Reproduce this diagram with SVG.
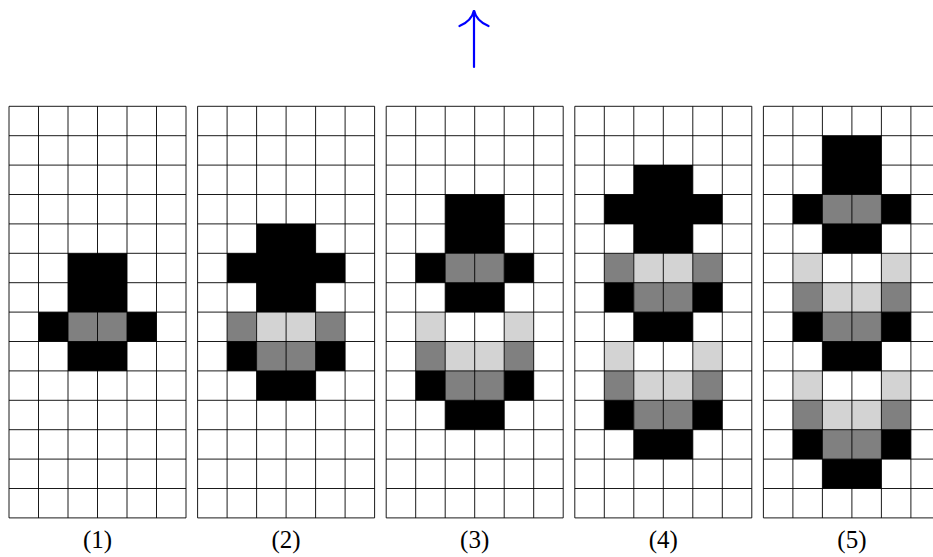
<svg xmlns="http://www.w3.org/2000/svg" xmlns:xlink="http://www.w3.org/1999/xlink" width="933" height="557" viewBox="0 0 933 557">
<style>
.b{fill:#000}
.g{fill:#808080}
.l{fill:#d3d3d3}
.gl{fill:none;stroke:#000;stroke-width:0.9}
.lab{font-family:"Liberation Serif","DejaVu Serif",serif;font-size:25px;fill:#000;text-anchor:middle;font-variant-numeric:oldstyle-nums}
.arr{fill:none;stroke:#0000ff;stroke-width:2.2;stroke-linecap:round}
</style>
<defs>
<path id="lines" class="gl" d="M0,0V411.6M29.5,0V411.6M59,0V411.6M88.5,0V411.6M118,0V411.6M147.5,0V411.6M177,0V411.6M0,0H177M0,29.4H177M0,58.8H177M0,88.2H177M0,117.6H177M0,147H177M0,176.4H177M0,205.8H177M0,235.2H177M0,264.6H177M0,294H177M0,323.4H177M0,352.8H177M0,382.2H177M0,411.6H177"/>
</defs>
<rect width="933" height="557" fill="#fff"/>
<g id="connectors">
<path class="arr" d="M474,67V11"/>
<path class="arr" d="M459.5,26C467,23 472.5,17 474,10.5C475.5,17 481,23 488.5,26"/>
</g>
<g id="grid1" transform="translate(9,106.3)">
<rect class="b" x="59" y="147" width="59" height="58.8"/>
<rect class="b" x="29.5" y="205.8" width="29.5" height="29.4"/>
<rect class="g" x="59" y="205.8" width="59" height="29.4"/>
<rect class="b" x="118" y="205.8" width="29.5" height="29.4"/>
<rect class="b" x="59" y="235.2" width="59" height="29.4"/>
<use xlink:href="#lines"/>
</g>
<g id="grid2" transform="translate(197.6,106.3)">
<path class="b" d="M59,117.6H118V147H147.5V176.4H118V205.8H59V176.4H29.5V147H59Z"/>
<rect class="g" x="29.5" y="205.8" width="29.5" height="29.4"/>
<rect class="l" x="59" y="205.8" width="59" height="29.4"/>
<rect class="g" x="118" y="205.8" width="29.5" height="29.4"/>
<rect class="b" x="29.5" y="235.2" width="29.5" height="29.4"/>
<rect class="g" x="59" y="235.2" width="59" height="29.4"/>
<rect class="b" x="118" y="235.2" width="29.5" height="29.4"/>
<rect class="b" x="59" y="264.6" width="59" height="29.4"/>
<use xlink:href="#lines"/>
</g>
<g id="grid3" transform="translate(386.2,106.3)">
<rect class="b" x="59" y="88.2" width="59" height="58.8"/>
<rect class="b" x="29.5" y="147" width="29.5" height="29.4"/>
<rect class="g" x="59" y="147" width="59" height="29.4"/>
<rect class="b" x="118" y="147" width="29.5" height="29.4"/>
<rect class="b" x="59" y="176.4" width="59" height="29.4"/>
<rect class="l" x="29.5" y="205.8" width="29.5" height="29.4"/>
<rect class="l" x="118" y="205.8" width="29.5" height="29.4"/>
<rect class="g" x="29.5" y="235.2" width="29.5" height="29.4"/>
<rect class="l" x="59" y="235.2" width="59" height="29.4"/>
<rect class="g" x="118" y="235.2" width="29.5" height="29.4"/>
<rect class="b" x="29.5" y="264.6" width="29.5" height="29.4"/>
<rect class="g" x="59" y="264.6" width="59" height="29.4"/>
<rect class="b" x="118" y="264.6" width="29.5" height="29.4"/>
<rect class="b" x="59" y="294" width="59" height="29.4"/>
<use xlink:href="#lines"/>
</g>
<g id="grid4" transform="translate(574.8,106.3)">
<path class="b" d="M59,58.8H118V88.2H147.5V117.6H118V147H59V117.6H29.5V88.2H59Z"/>
<rect class="g" x="29.5" y="147" width="29.5" height="29.4"/>
<rect class="l" x="59" y="147" width="59" height="29.4"/>
<rect class="g" x="118" y="147" width="29.5" height="29.4"/>
<rect class="b" x="29.5" y="176.4" width="29.5" height="29.4"/>
<rect class="g" x="59" y="176.4" width="59" height="29.4"/>
<rect class="b" x="118" y="176.4" width="29.5" height="29.4"/>
<rect class="b" x="59" y="205.8" width="59" height="29.4"/>
<rect class="l" x="29.5" y="235.2" width="29.5" height="29.4"/>
<rect class="l" x="118" y="235.2" width="29.5" height="29.4"/>
<rect class="g" x="29.5" y="264.6" width="29.5" height="29.4"/>
<rect class="l" x="59" y="264.6" width="59" height="29.4"/>
<rect class="g" x="118" y="264.6" width="29.5" height="29.4"/>
<rect class="b" x="29.5" y="294" width="29.5" height="29.4"/>
<rect class="g" x="59" y="294" width="59" height="29.4"/>
<rect class="b" x="118" y="294" width="29.5" height="29.4"/>
<rect class="b" x="59" y="323.4" width="59" height="29.4"/>
<use xlink:href="#lines"/>
</g>
<g id="grid5" transform="translate(763.4,106.3)">
<rect class="b" x="59" y="29.4" width="59" height="58.8"/>
<rect class="b" x="29.5" y="88.2" width="29.5" height="29.4"/>
<rect class="g" x="59" y="88.2" width="59" height="29.4"/>
<rect class="b" x="118" y="88.2" width="29.5" height="29.4"/>
<rect class="b" x="59" y="117.6" width="59" height="29.4"/>
<rect class="l" x="29.5" y="147" width="29.5" height="29.4"/>
<rect class="l" x="118" y="147" width="29.5" height="29.4"/>
<rect class="g" x="29.5" y="176.4" width="29.5" height="29.4"/>
<rect class="l" x="59" y="176.4" width="59" height="29.4"/>
<rect class="g" x="118" y="176.4" width="29.5" height="29.4"/>
<rect class="b" x="29.5" y="205.8" width="29.5" height="29.4"/>
<rect class="g" x="59" y="205.8" width="59" height="29.4"/>
<rect class="b" x="118" y="205.8" width="29.5" height="29.4"/>
<rect class="b" x="59" y="235.2" width="59" height="29.4"/>
<rect class="l" x="29.5" y="264.6" width="29.5" height="29.4"/>
<rect class="l" x="118" y="264.6" width="29.5" height="29.4"/>
<rect class="g" x="29.5" y="294" width="29.5" height="29.4"/>
<rect class="l" x="59" y="294" width="59" height="29.4"/>
<rect class="g" x="118" y="294" width="29.5" height="29.4"/>
<rect class="b" x="29.5" y="323.4" width="29.5" height="29.4"/>
<rect class="g" x="59" y="323.4" width="59" height="29.4"/>
<rect class="b" x="118" y="323.4" width="29.5" height="29.4"/>
<rect class="b" x="59" y="352.8" width="59" height="29.4"/>
<use xlink:href="#lines"/>
</g>
<g id="labels">
<text class="lab" x="97.5" y="548">(1)</text>
<text class="lab" x="286.1" y="548">(2)</text>
<text class="lab" x="474.7" y="548">(3)</text>
<text class="lab" x="663.3" y="548">(4)</text>
<text class="lab" x="851.9" y="548">(5)</text>
</g>
</svg>
